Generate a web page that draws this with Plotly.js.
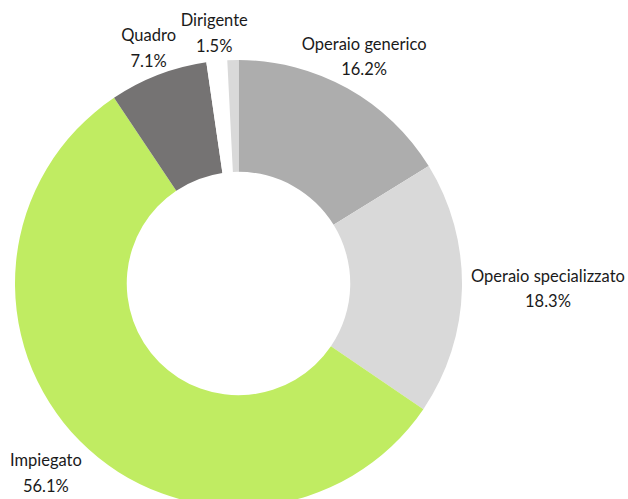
<!DOCTYPE html>
<html>
<head>
<meta charset="utf-8">
<script src="https://cdn.plot.ly/plotly-3.0.1.min.js"></script>
<style>
html,body{margin:0;padding:0;overflow:hidden;background:#fff;width:628px;height:499px;position:relative;}
#chart{position:absolute;left:-100px;top:-60px;width:740px;height:690px;}
</style>
</head>
<body>
<div id="chart"></div>
<script>
// ---- data ----
var categories = ["Operaio generico", "Operaio specializzato", "Impiegato", "Quadro", "Dirigente", "Non indicato"];
var values = [16.2, 18.3, 56.1, 7.1, 1.5, 0.8];
var showLabel = [true, true, true, true, true, false];

// ---- style ----
var sliceColors = ["#adadad", "#d9d9d9", "#c0ec62", "#757373", "#ffffff", "#d9d9d9"];
// label distance from centre, in units of the pie radius
var labelDistance = [1.154, 1.385, 1.215, 1.119, 1.117, 1.1];
var labelFont = {family: "Lato, 'Open Sans', sans-serif", size: 16.5, color: "#1a1a1a"};

// canvas is larger than the window and shifted, so the label layer has room
var W = 740, H = 690;
var cx = 338.5, cyTop = 343.5, R = 223.5, RL = 1.5 * R;
var cyB = H - cyTop;
var pieDomain = {x: [(cx - R) / W, (cx + R) / W], y: [(cyB - R) / H, (cyB + R) / H]};
var labelDomain = {x: [(cx - RL) / W, (cx + RL) / W], y: [(cyB - RL) / H, (cyB + RL) / H]};

// ---- label angles derived from the values ----
var total = values.reduce(function(a, b){ return a + b; }, 0);
var cum = 0, thetas = [], nameTexts = [], pctTexts = [];
values.forEach(function(v, i){
  thetas.push((cum + v / 2) / total * 360);
  cum += v;
  nameTexts.push(showLabel[i] ? categories[i] : "");
  pctTexts.push(showLabel[i] ? (v / total * 100).toFixed(1) + "%" : "");
});

var pie = {
  type: "pie",
  labels: categories,
  values: values,
  hole: 0.5,
  sort: false,
  direction: "clockwise",
  rotation: 0,
  domain: pieDomain,
  marker: {colors: sliceColors, line: {width: 0}},
  textinfo: "none",
  showlegend: false,
  hoverinfo: "label+percent"
};

function labelTrace(texts, pos) {
  return {
    type: "scatterpolar",
    subplot: "polar",
    mode: "markers+text",
    r: labelDistance,
    theta: thetas,
    text: texts,
    textposition: pos,
    textfont: labelFont,
    marker: {size: 5.6, color: "rgba(0,0,0,0)", line: {width: 0}},
    cliponaxis: false,
    showlegend: false,
    hoverinfo: "skip"
  };
}

var layout = {
  width: W,
  height: H,
  margin: {l: 0, r: 0, t: 0, b: 0},
  paper_bgcolor: "rgba(0,0,0,0)",
  showlegend: false,
  font: labelFont,
  polar: {
    domain: labelDomain,
    bgcolor: "rgba(0,0,0,0)",
    radialaxis: {range: [0, 1.5], visible: false},
    angularaxis: {visible: false, direction: "clockwise", rotation: 90}
  }
};

Plotly.newPlot("chart", [labelTrace(nameTexts, "top center"), labelTrace(pctTexts, "bottom center"), pie], layout, {displayModeBar: false, staticPlot: true});
</script>
</body>
</html>
